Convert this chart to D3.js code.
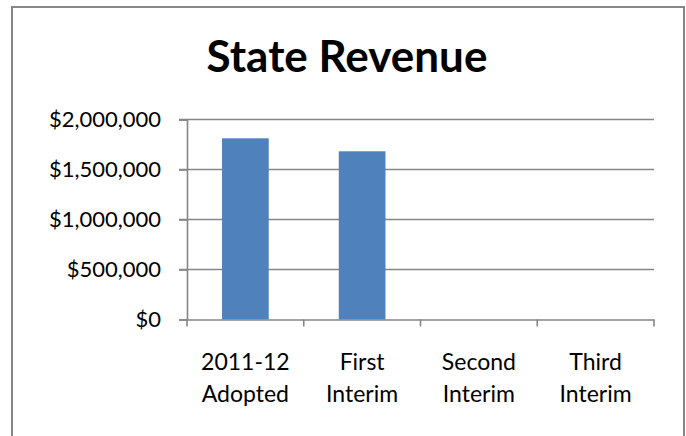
<!DOCTYPE html>
<html><head><meta charset="utf-8">
<script src="https://cdn.jsdelivr.net/npm/d3@7"></script>
<style>body{margin:0;background:#fff}svg{display:block}</style>
</head><body>
<svg id="chart" width="686" height="436"></svg>
<script>
const title = "State Revenue";
const categories = [["2011-12","Adopted"],["First","Interim"],["Second","Interim"],["Third","Interim"]];
const values = [1812000, 1682000, null, null];
const yTicks = [0, 500000, 1000000, 1500000, 2000000];

const svg = d3.select("#chart");
const m = {left:187, right:654, top:119.5, bottom:319.5};
const gray = "#868686";
const font = "Lato, 'Liberation Sans', sans-serif";

svg.append("rect").attr("x",12).attr("y",7).attr("width",672).attr("height",440)
  .attr("fill","#fff").attr("stroke",gray).attr("stroke-width",2);

const x = d3.scaleBand().domain(categories.map(c=>c.join(" "))).range([m.left,m.right]).padding(0);
const y = d3.scaleLinear().domain([0,2000000]).range([m.bottom,m.top]);

// gridlines
svg.append("g").selectAll("line").data(yTicks.filter(d=>d>0)).join("line")
  .attr("x1",m.left-8).attr("x2",m.right).attr("y1",d=>y(d)).attr("y2",d=>y(d))
  .attr("stroke",gray).attr("stroke-width",1.6);

// bars
svg.append("g").selectAll("rect").data(values.map((v,i)=>({k:categories[i].join(" "),v})).filter(d=>d.v!=null)).join("rect")
  .attr("x",d=>x(d.k)+x.bandwidth()*0.3).attr("width",x.bandwidth()*0.4)
  .attr("y",d=>y(d.v)).attr("height",d=>y(0)-y(d.v)).attr("fill","#4f81bd");

// y axis
const ya = svg.append("g").attr("transform",`translate(${m.left},0)`)
  .call(d3.axisLeft(y).tickValues(yTicks).tickSize(8).tickPadding(18).tickFormat(d=>"$"+d3.format(",")(d)));
ya.select(".domain").attr("stroke",gray).attr("stroke-width",1.6);
ya.selectAll(".tick line").attr("stroke",gray).attr("stroke-width",1.6);
ya.selectAll(".tick text").attr("font-family",font).attr("font-size",22).attr("fill","#000");

// x axis
const xa = svg.append("g").attr("transform",`translate(0,${m.bottom})`)
  .call(d3.axisBottom(x).tickSize(0).tickFormat(""));
xa.select(".domain").attr("stroke",gray).attr("stroke-width",1.6);
const edges = x.domain().map(d=>x(d)).concat([m.right]);
xa.append("g").selectAll("line").data(edges).join("line")
  .attr("x1",d=>d).attr("x2",d=>d).attr("y1",0).attr("y2",7).attr("stroke",gray).attr("stroke-width",1.6);
const lbl = xa.append("g").selectAll("text").data(categories).join("text")
  .attr("x",d=>x(d.join(" "))+x.bandwidth()/2).attr("y",50.5)
  .attr("text-anchor","middle").attr("font-family",font).attr("font-size",23).attr("fill","#000");
lbl.selectAll("tspan").data(d=>d).join("tspan")
  .attr("x",function(){return d3.select(this.parentNode).attr("x");})
  .attr("dy",(d,i)=>i?31.5:0).text(d=>d);

svg.append("text").attr("x",347).attr("y",71.5).attr("text-anchor","middle")
  .attr("font-family",font).attr("font-weight","bold").attr("font-size",44).attr("fill","#000").text(title);
</script>
</body></html>
